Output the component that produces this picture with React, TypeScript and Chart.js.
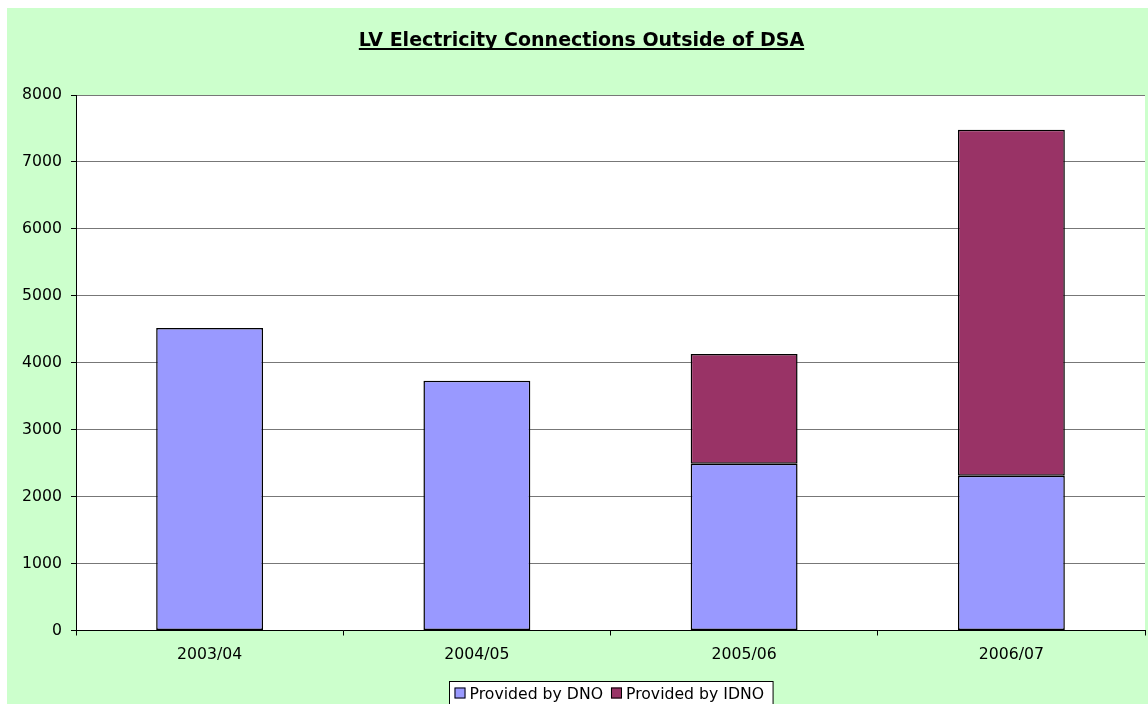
import { useEffect, useRef } from "react";
import { Chart, registerables } from "chart.js";

Chart.register(...registerables);

const titleText = "LV Electricity Connections Outside of DSA";
const categories = ["2003/04", "2004/05", "2005/06", "2006/07"];
const seriesLabels = ["Provided by DNO", "Provided by IDNO"];
const dnoValues = [4520, 3730, 2490, 2310];
const idnoValues = [null, null, 1640, 5170];
const yMin = 0;
const yMax = 8000;
const yStep = 1000;

const FONT = "'DejaVu Sans', Verdana, sans-serif";
const FS = 15.7;
const BG = "#CCFFCC";
const DNO_COLOR = "#9999FF";
const IDNO_COLOR = "#993366";

const decoPlugin = {
  id: "deco",
  beforeDraw(chart: any) {
    const { ctx, chartArea: a, width, height } = chart;
    ctx.save();
    ctx.fillStyle = BG;
    ctx.fillRect(0, 0, width, height);
    ctx.fillStyle = "#FFFFFF";
    ctx.fillRect(a.left, a.top, a.right - a.left, a.bottom - a.top);
    ctx.restore();
  },
  afterDraw(chart: any) {
    const { ctx, chartArea: a, width } = chart;
    ctx.save();
    // Title
    ctx.font = `bold 19px ${FONT}`;
    ctx.fillStyle = "#000";
    ctx.textAlign = "center";
    ctx.textBaseline = "alphabetic";
    const tx = width / 2 + 4;
    const ty = 38;
    ctx.fillText(titleText, tx, ty);
    const tw = ctx.measureText(titleText).width;
    ctx.fillRect(tx - tw / 2, ty + 2, tw, 2);

    // Legend
    ctx.font = `${FS}px ${FONT}`;
    ctx.textAlign = "left";
    const items = chart.data.datasets.map((d: any) => ({
      label: d.label,
      color: d.backgroundColor,
      w: ctx.measureText(d.label).width,
    }));
    const box = 11;
    const padL = 5;
    const gapText = 4;
    const gapItem = 8;
    let total = padL;
    items.forEach((it: any, i: number) => {
      total += box + gapText + it.w + (i < items.length - 1 ? gapItem : 9);
    });
    const cx = (a.left + a.right) / 2;
    const lx = Math.round(cx - total / 2) + 0.5;
    const ly = 673.5;
    ctx.fillStyle = "#FFFFFF";
    ctx.fillRect(lx, ly, total, 40);
    ctx.strokeStyle = "#000";
    ctx.lineWidth = 1;
    ctx.strokeRect(lx, ly, total, 40);
    let x = lx + padL;
    const baseY = 690.5;
    items.forEach((it: any) => {
      ctx.fillStyle = it.color;
      ctx.fillRect(x, baseY - 11, box, box);
      ctx.strokeStyle = "#000";
      ctx.strokeRect(x + 0.5, baseY - 11 + 0.5, box - 1, box - 1);
      x += box + gapText;
      ctx.fillStyle = "#000";
      ctx.fillText(it.label, x, baseY);
      x += it.w + gapItem;
    });
    ctx.restore();
  },
};

export default function App() {
  const ref = useRef<HTMLCanvasElement | null>(null);
  useEffect(() => {
    if (!ref.current) return;
    const chart = new Chart(ref.current, {
      type: "bar",
      data: {
        labels: categories,
        datasets: [
          {
            label: seriesLabels[0],
            data: dnoValues,
            backgroundColor: DNO_COLOR,
            borderColor: "#000",
            borderWidth: 1.5,
            borderSkipped: false,
          },
          {
            label: seriesLabels[1],
            data: idnoValues as any,
            backgroundColor: IDNO_COLOR,
            borderColor: "#000",
            borderWidth: 1.5,
            borderSkipped: false,
          },
        ],
      },
      options: {
        animation: false,
        responsive: false,
        maintainAspectRatio: false,
        layout: { padding: { top: 87, right: 3, bottom: 0, left: 0 } },
        datasets: { bar: { categoryPercentage: 0.4, barPercentage: 1 } },
        plugins: {
          legend: { display: false },
          title: { display: false },
          tooltip: { enabled: false },
        },
        scales: {
          x: {
            stacked: true,
            grid: {
              offset: true,
              drawOnChartArea: false,
              drawTicks: true,
              tickLength: 5,
              tickColor: "#000",
            },
            border: { color: "#000", width: 1 },
            ticks: {
              color: "#000",
              font: { family: FONT, size: FS },
              padding: 10,
              maxRotation: 0,
            },
            afterFit(scale: any) {
              scale.height = 73.5;
            },
          },
          y: {
            stacked: true,
            min: yMin,
            max: yMax,
            grid: {
              color: "#777",
              drawTicks: true,
              tickLength: 5,
              tickColor: "#000",
            },
            border: { color: "#000", width: 1 },
            ticks: {
              stepSize: yStep,
              color: "#000",
              font: { family: FONT, size: FS },
              padding: 9,
              callback: (v: any) => String(v),
            },
            afterFit(scale: any) {
              scale.width = 69;
            },
          },
        },
      },
      plugins: [decoPlugin],
    });
    return () => chart.destroy();
  }, []);
  return (
    <div style={{ position: "fixed", left: 7, top: 8, width: 1141, height: 696 }}>
      <canvas ref={ref} width={1141} height={696} style={{ display: "block" }} />
    </div>
  );
}
